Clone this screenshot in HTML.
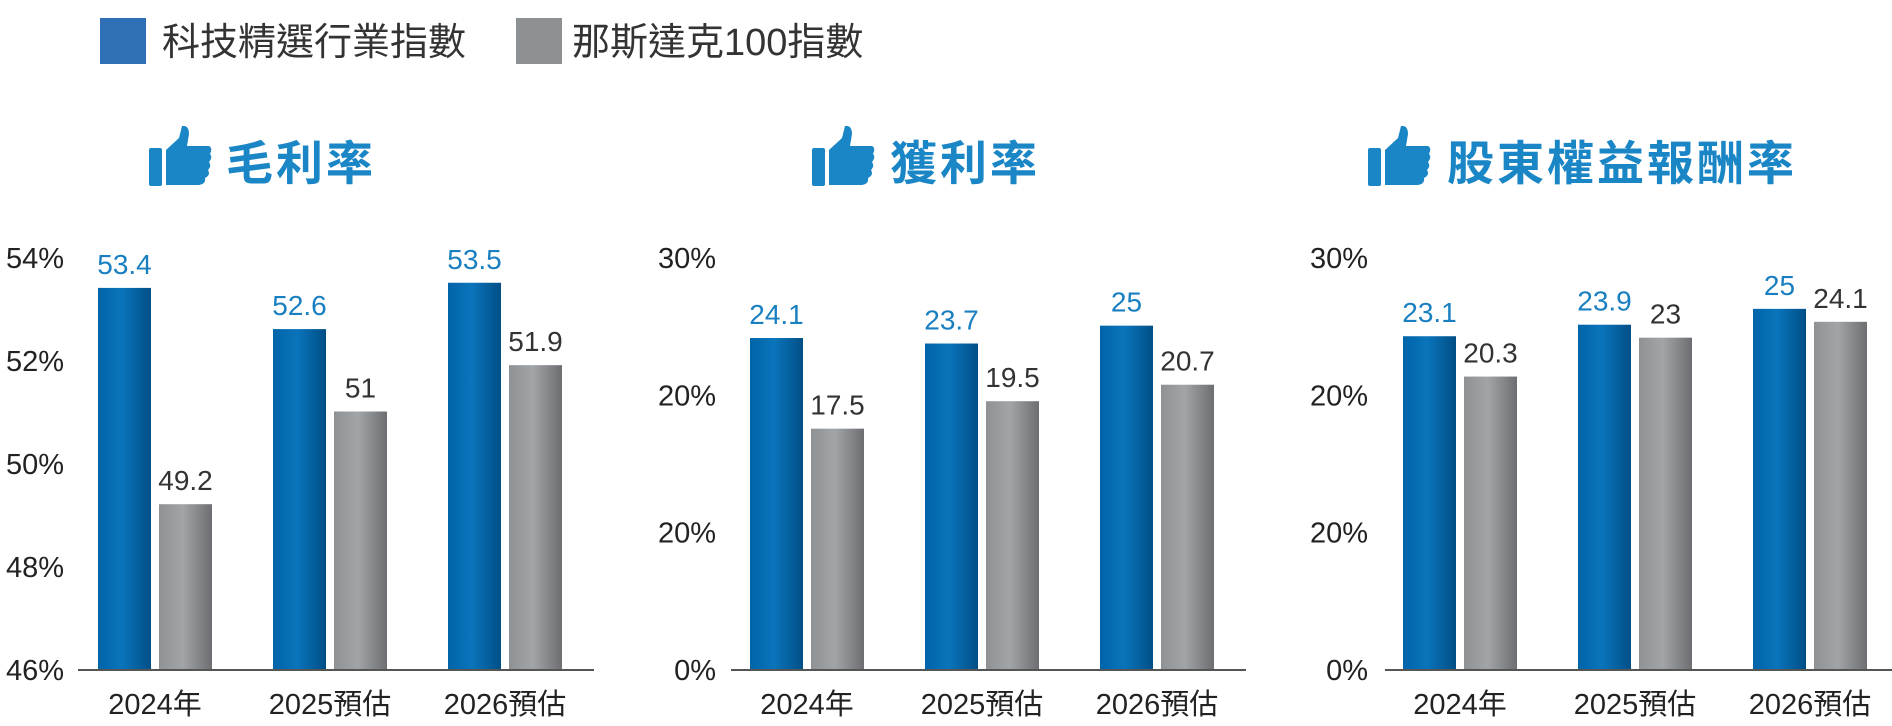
<!DOCTYPE html>
<html><head><meta charset="utf-8">
<style>
html,body{margin:0;padding:0;background:#fff;}
svg{display:block;}
text{font-family:"Liberation Sans Narrow","Liberation Sans","Noto Sans CJK TC",sans-serif;}
.cjk{font-family:"Liberation Sans","Noto Sans CJK TC",sans-serif;}
</style></head>
<body>
<svg id="chart" width="1892" height="726" viewBox="0 0 1892 726" xmlns="http://www.w3.org/2000/svg">
<defs>
<linearGradient id="gBlue" x1="0" x2="1" y1="0" y2="0">
<stop offset="0" stop-color="#0064a8"/><stop offset="0.45" stop-color="#0a74bb"/><stop offset="1" stop-color="#004f86"/>
</linearGradient>
<linearGradient id="gGray" x1="0" x2="1" y1="0" y2="0">
<stop offset="0" stop-color="#8f9295"/><stop offset="0.45" stop-color="#a2a5a8"/><stop offset="1" stop-color="#6c6e71"/>
</linearGradient>
<symbol id="thumb" viewBox="0 0 63 60">
<rect x="0" y="22" width="13" height="38" rx="2" fill="#1a86c6"/>
<path d="M17 24 L30 12 L33 0 Q40 -1 40 8 L38 20 L60 20 Q64 22 61 28 Q64 31 60 36 Q63 40 59 44 Q62 49 56 52 Q57 58 50 59 L17 59 Z" fill="#1a86c6"/>
</symbol>
</defs>
<g>
<rect x="100" y="18" width="46" height="46" fill="#2f6fb5"/>
<text class="cjk" x="162" y="55" font-size="38" fill="#333">科技精選行業指數</text>
<rect x="516" y="18" width="46" height="46" fill="#8e9193"/>
<text class="cjk" x="572" y="55" font-size="38" fill="#333">那斯達克100指數</text>
</g>
<g id="panels"></g>
</svg>
<script>
const categories = ["2024年","2025預估","2026預估"];
const grossTech = [53.4, 52.6, 53.5];
const grossNasdaq = [49.2, 51, 51.9];
const grossTicks = ["46%","48%","50%","52%","54%"];
const netTech = [24.1, 23.7, 25];
const netNasdaq = [17.5, 19.5, 20.7];
const netTicks = ["0%","20%","20%","30%"];
const roeTech = [23.1, 23.9, 25];
const roeNasdaq = [20.3, 23, 24.1];
const roeTicks = ["0%","20%","20%","30%"];

const NS="http://www.w3.org/2000/svg";
const root=document.getElementById('panels');
function mk(tag,attrs,parent,txt){const e=document.createElementNS(NS,tag);for(const k in attrs)e.setAttribute(k,attrs[k]);if(txt!==undefined)e.textContent=txt;parent.appendChild(e);return e;}

const BASE=669, TOP=257, BW=53;
const panels=[
 {key:"gross",title:"毛利率",tech:grossTech,nas:grossNasdaq,ticks:grossTicks,ymin:46,ymax:54,axisX1:78,axisX2:594,firstBar:98,tickRight:64,iconX:149,titleX:226},
 {key:"net",title:"獲利率",tech:netTech,nas:netNasdaq,ticks:netTicks,ymin:0,ymax:30,axisX1:731,axisX2:1246,firstBar:750,tickRight:716,iconX:812,titleX:890},
 {key:"roe",title:"股東權益報酬率",tech:roeTech,nas:roeNasdaq,ticks:roeTicks,ymin:0,ymax:28.6,axisX1:1385,axisX2:1892,firstBar:1403,tickRight:1368,iconX:1368,titleX:1447}
];
panels.forEach(p=>{
 const g=mk('g',{},root);
 
 
 const y=v=>BASE-(v-p.ymin)/(p.ymax-p.ymin)*(BASE-TOP);
 const ic=mk('use',{href:'#thumb',x:p.iconX,y:126,width:63,height:60},g);
 
 
 const t=mk('text',{x:p.titleX,y:180,'font-size':47,'font-weight':'bold',fill:'#1a86c6','class':'cjk','letter-spacing':3},g,p.title);
 
 
 const n=p.ticks.length;
 p.ticks.forEach((lab,i)=>{
  const ty=BASE-i*(BASE-TOP)/(n-1);
  const tl=mk('text',{x:p.tickRight,y:ty+11,'font-size':29,'text-anchor':'end',fill:'#222'},g,lab);
  
  
 });
 categories.forEach((c,i)=>{
  const bx=p.firstBar+i*175;
  const b1=mk('rect',{x:bx,y:y(p.tech[i]),width:BW,height:BASE-y(p.tech[i]),fill:'url(#gBlue)'},g);
  
  
  const b2=mk('rect',{x:bx+61,y:y(p.nas[i]),width:BW,height:BASE-y(p.nas[i]),fill:'url(#gGray)'},g);
  
  
  const v1=mk('text',{x:bx+BW/2,y:y(p.tech[i])-14,'font-size':28,'text-anchor':'middle',fill:'#1a7fc0'},g,String(p.tech[i]));
  
  
  const v2=mk('text',{x:bx+61+BW/2,y:y(p.nas[i])-14,'font-size':28,'text-anchor':'middle',fill:'#333'},g,String(p.nas[i]));
  
  
  const xl=mk('text',{x:bx+57,y:714,'font-size':29,'text-anchor':'middle',fill:'#222','class':'cjk'},g,c);
  
  
 });
 const ax=mk('line',{x1:p.axisX1,x2:p.axisX2,y1:BASE+1,y2:BASE+1,stroke:'#555','stroke-width':2},g);
 
 
});
</script>
</body></html>
